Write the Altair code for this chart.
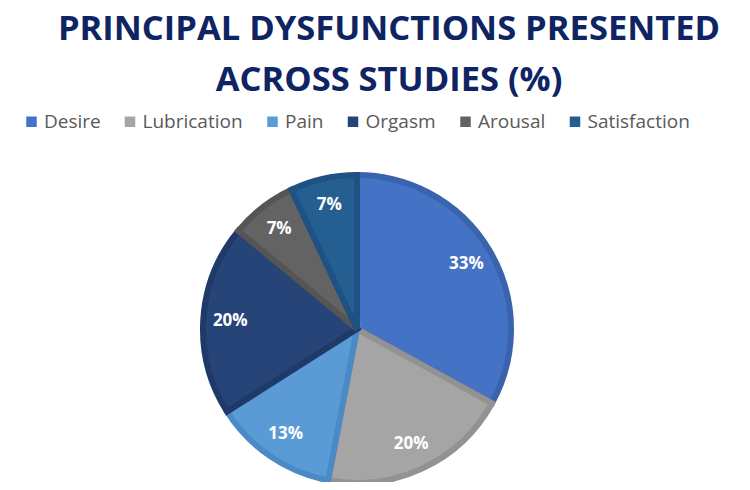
import altair as alt
import pandas as pd

categories = ["Desire", "Lubrication", "Pain", "Orgasm", "Arousal", "Satisfaction"]
values = [33, 20, 13, 20, 7, 7]
labels = ["33%", "20%", "13%", "20%", "7%", "7%"]
fill_colors = ["#4472C4", "#A5A5A5", "#5B9BD5", "#264478", "#636363", "#255E91"]
edge_colors = ["#3A63AE", "#929292", "#4A8AC6", "#1F3A69", "#555555", "#1E5282"]
title_line1 = "PRINCIPAL DYSFUNCTIONS PRESENTED"
title_line2 = "ACROSS STUDIES (%)"

df = pd.DataFrame({
    "category": categories,
    "value": values,
    "label": labels,
    "order": list(range(len(categories))),
})

CX, CY = 349, 223

base = alt.Chart(df).encode(
    theta=alt.Theta("value:Q", stack=True),
    order=alt.Order("order:Q"),
)

pie = base.mark_arc(outerRadius=154, strokeWidth=6).encode(
    color=alt.Color(
        "category:N",
        sort=categories,
        scale=alt.Scale(domain=categories, range=fill_colors),
        legend=alt.Legend(
            title=None,
            orient="none",
            direction="horizontal",
            legendX=14,
            legendY=6,
            symbolType="square",
            symbolSize=110,
            symbolStrokeWidth=0,
            labelFont="Open Sans",
            labelFontSize=19,
            labelColor="#595959",
            columnPadding=19.5,
            labelOffset=3,
        ),
    ),
    stroke=alt.Stroke(
        "category:N",
        scale=alt.Scale(domain=categories, range=edge_colors),
        legend=None,
    ),
    x=alt.value(CX),
    y=alt.value(CY),
)

text = base.mark_text(
    radius=127, color="white", font="Open Sans", fontWeight="bold", fontSize=17
).encode(
    text="label:N",
    x=alt.value(CX),
    y=alt.value(CY),
)

chart = (pie + text).properties(
    width=734,
    height=474,
    autosize=alt.AutoSizeParams(type="fit", contains="padding"),
    padding={"top": 4, "left": 0, "right": 0, "bottom": 0},
    title=alt.TitleParams(
        text=title_line1,
        subtitle=title_line2,
        font="Open Sans",
        fontSize=34.5,
        fontWeight="bold",
        color="#0E2463",
        subtitleFont="Open Sans",
        subtitleFontSize=34.5,
        subtitleFontWeight="bold",
        subtitleColor="#0E2463",
        subtitlePadding=16,
        anchor="middle",
        dx=14,
        offset=8,
    ),
).configure_view(stroke=None)

chart.save("out.html", embed_options={"renderer": "svg", "actions": False})
